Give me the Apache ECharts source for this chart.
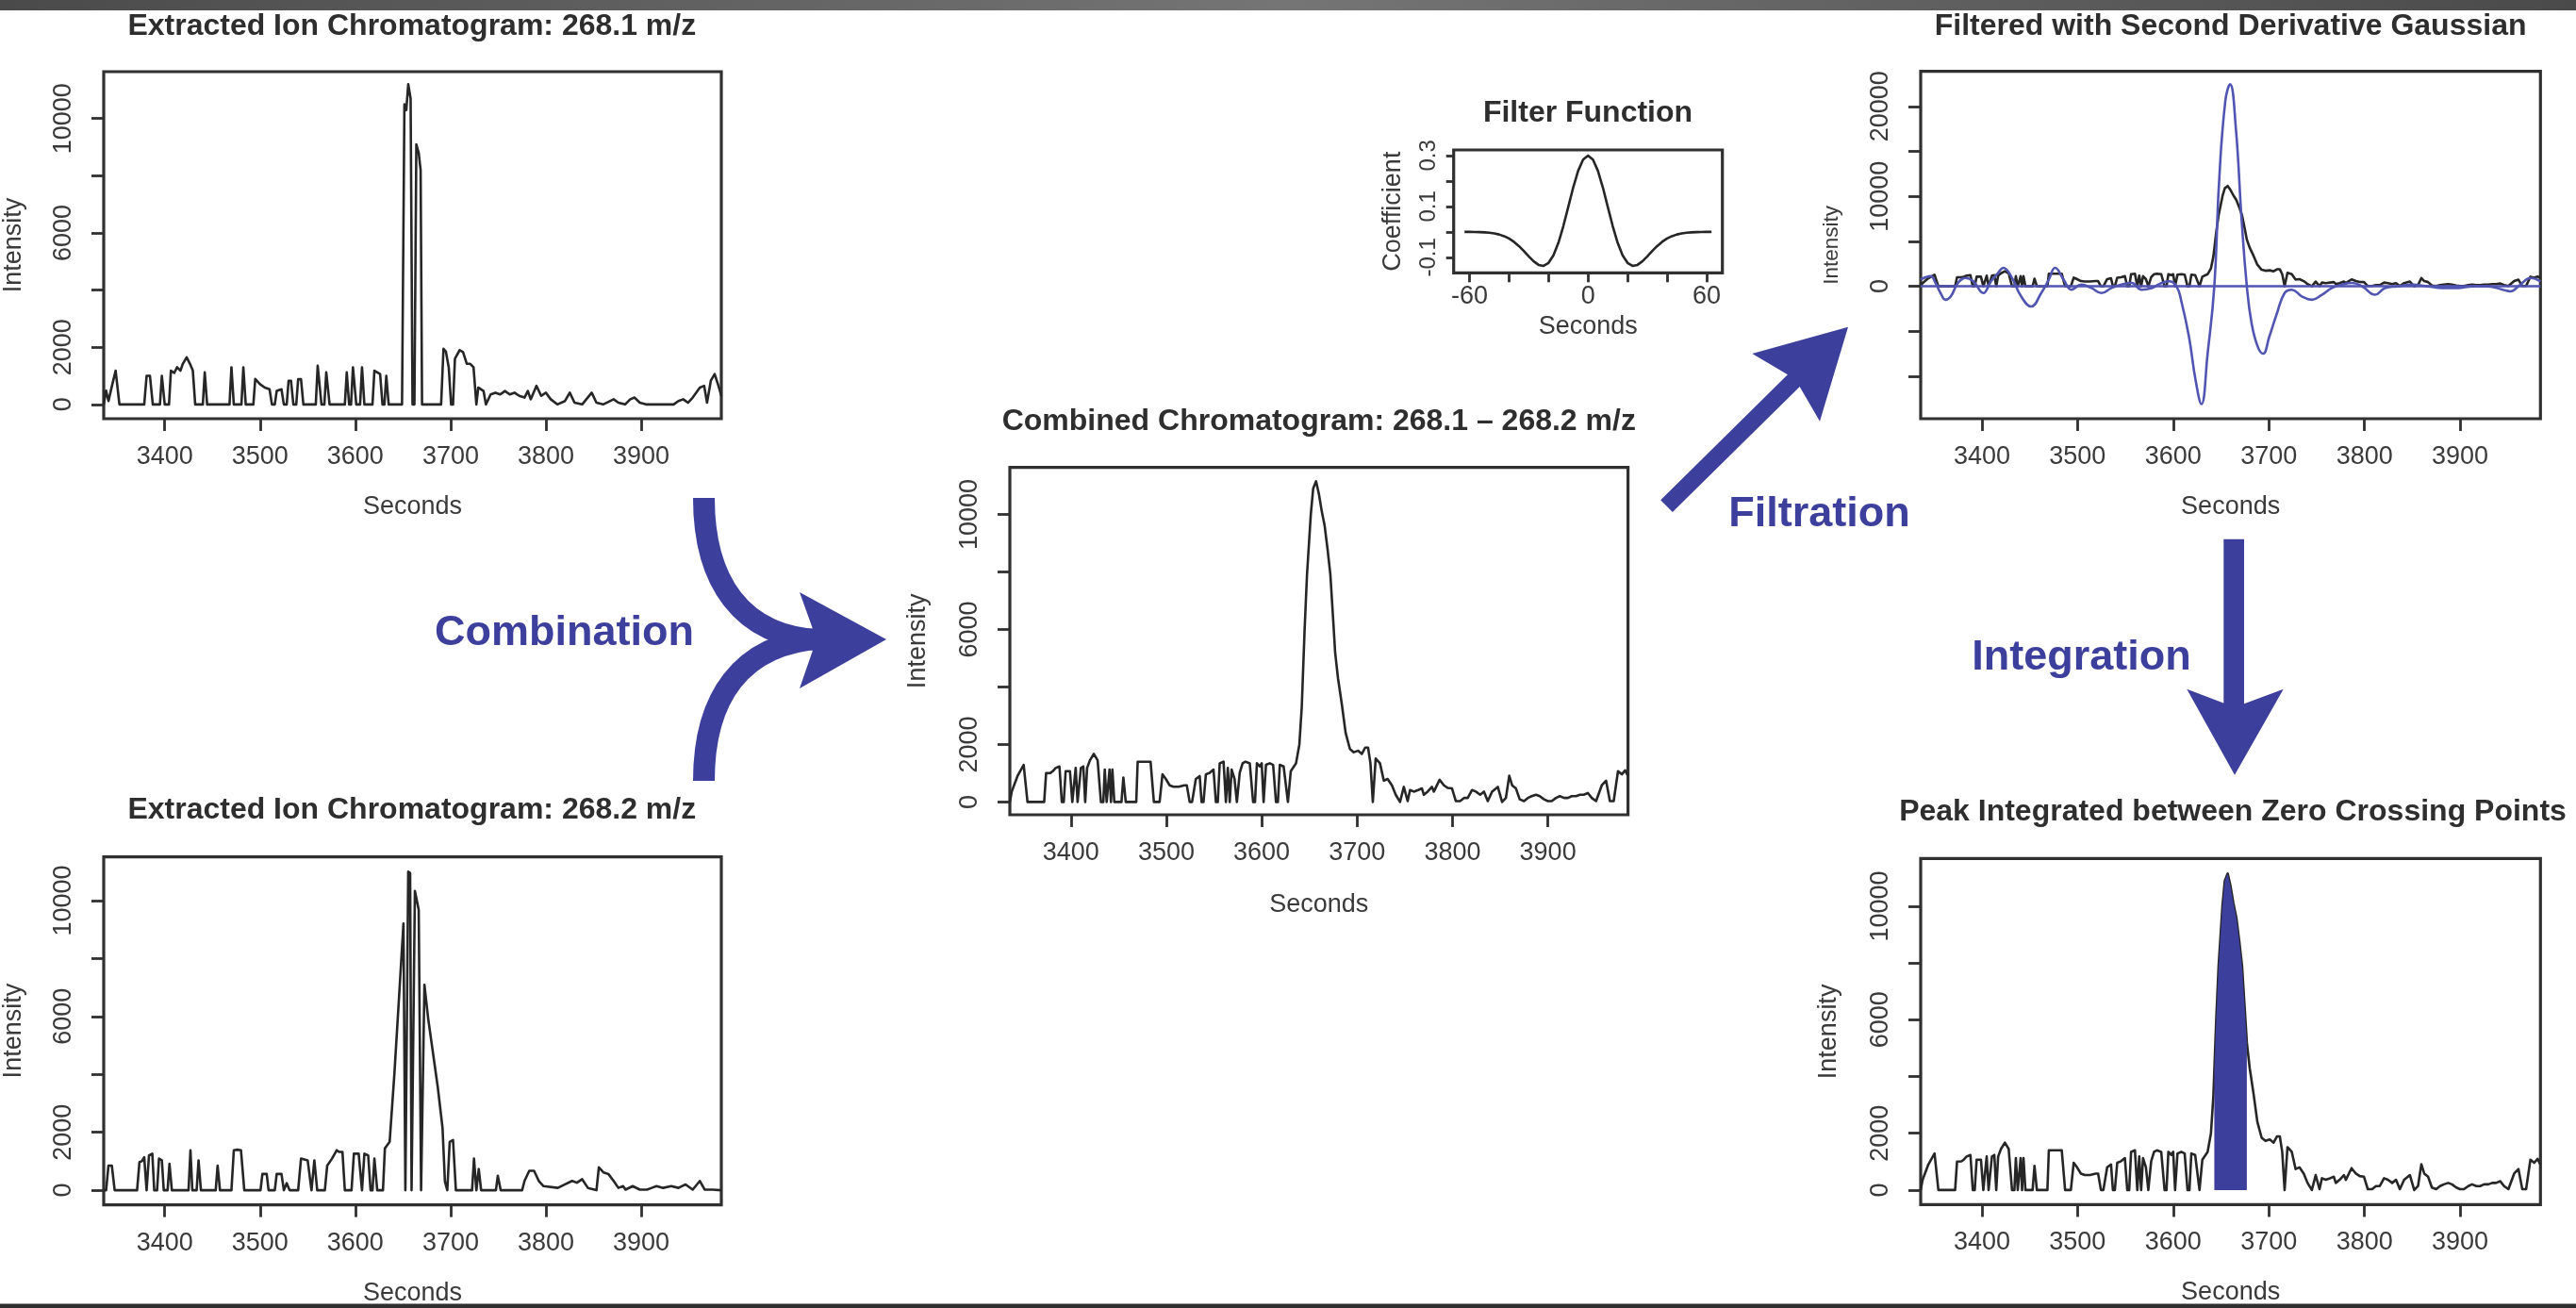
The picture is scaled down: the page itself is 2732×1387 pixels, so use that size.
<!DOCTYPE html>
<html>
<head>
<meta charset="utf-8">
<script src="https://cdn.jsdelivr.net/npm/echarts@6/dist/echarts.min.js"></script>
<style>
  html, body { margin: 0; padding: 0; background: #ffffff; }
  #chart { width: 2732px; height: 1387px; }
</style>
</head>
<body>
<div id="chart"></div>
<script>
// ---- Data -----------------------------------------------------------------
// Axis ticks and labels (R-style: every tick drawn, overlapping labels dropped)
const secondsTicks = [3400, 3500, 3600, 3700, 3800, 3900];
const intensityTicks = [0, 2000, 4000, 6000, 8000, 10000];
const intensityLabels = [0, 2000, 6000, 10000];
const filteredTicks = [-10000, -5000, 0, 5000, 10000, 15000, 20000];
const filteredLabels = [0, 10000, 20000];
const kernelSecondsTicks = [-60, -40, -20, 0, 20, 40, 60];
const kernelSecondsLabels = [-60, 0, 60];
const coefficientTicks = [-0.1, 0, 0.1, 0.2, 0.3];
const coefficientLabels = [-0.1, 0.1, 0.3];

// Extracted ion chromatogram, 268.1 m/z  [seconds, intensity]
const eic2681 = [
  [3336,0],[3338.5,480],[3341,120],[3345,700],[3348.5,1180],[3352.5,0],
  [3378.5,0],[3381,1000],[3384.5,1000],[3387.5,0],
  [3395,0],[3397,1000],[3400,0],
  [3404.5,0],[3406.5,1180],[3410,1100],[3413,1300],[3416.5,1180],[3419,1420],[3423,1650],[3426.5,1420],[3429.5,1180],[3432,0],
  [3440,0],[3442,1120],[3444.5,0],
  [3468,0],[3470,1300],[3472.5,0],
  [3480.5,0],[3482.5,1300],[3485,0],
  [3493,0],[3495,890],[3500,710],[3505,590],[3510,530],[3512.5,0],
  [3515.5,0],[3517.5,470],[3522.5,530],[3525,0],
  [3528,0],[3530,830],[3532.5,830],[3535,0],
  [3538,0],[3540,880],[3543,880],[3545.5,0],
  [3558.5,0],[3560.5,1350],[3564.5,0],
  [3567.5,0],[3569.5,1120],[3573,0],
  [3589,0],[3591,1120],[3593.5,0],
  [3595.5,0],[3597.5,1300],[3601,0],
  [3605,0],[3607,1300],[3609.5,0],
  [3618,0],[3620,1180],[3626,1060],[3628.5,0],
  [3630.5,0],[3632.5,1000],[3635,0],
  [3649,0],[3651.5,10500],[3653.5,10300],[3655.5,11200],[3658,10700],[3660,0],
  [3662,0],[3664,9100],[3666.5,8800],[3668.5,8200],[3670,0],
  [3690,0],[3692.5,1950],[3695,1850],[3698,1300],[3700.5,0],
  [3702.5,0],[3704.5,1600],[3709.5,1900],[3713,1830],[3717,1420],[3720.5,1420],[3724,1300],[3727,0],
  [3729,590],[3734.5,470],[3737,0],[3742,350],[3747,410],[3752,350],[3757,470],[3762,350],
  [3767,410],[3772,300],[3777.5,240],[3781,470],[3784,180],[3790,650],[3795,300],[3800,410],
  [3805,180],[3812,0],[3820,120],[3825,410],[3830,60],[3838,0],[3848,410],[3853,60],[3860,0],
  [3871,180],[3876,60],[3883,0],[3888.5,180],[3893,240],[3898.5,60],[3905,0],[3934,0],
  [3939,120],[3944,180],[3949,60],[3954,240],[3961.5,590],[3966,650],[3969,60],
  [3973,830],[3977,1060],[3981,650],[3984,300]
];

// Extracted ion chromatogram, 268.2 m/z  [seconds, intensity]
const eic2682 = [
  [3336,0],[3338.5,0],[3341,850],[3344.5,850],[3347.5,0],
  [3371,0],[3373.5,970],[3376,1000],[3378.5,1140],[3381,0],[3383.5,1200],[3387,1260],[3389,0],
  [3392,0],[3394,1090],[3397,1030],[3399,0],[3403,0],[3405,910],[3407.5,0],
  [3425,0],[3427,1380],[3429,0],[3433.5,0],[3435.5,1030],[3438,0],
  [3453.5,0],[3455.5,850],[3458,0],
  [3470,0],[3472.5,1380],[3476,1400],[3480,1380],[3483.5,0],
  [3500.5,0],[3502.5,560],[3507,560],[3509,0],[3515.5,0],[3517.5,560],[3522.5,560],[3525,0],[3528,240],[3531,0],
  [3540,0],[3543,1090],[3550,1030],[3554,0],[3557,1030],[3560,0],
  [3568,0],[3570.5,850],[3575.5,1090],[3580.5,1380],[3583,1320],[3586.5,1320],[3589,0],
  [3596,0],[3598.5,1260],[3603.5,1260],[3607,0],[3609.5,1260],[3613.5,1200],[3616,0],
  [3618,0],[3620,1090],[3623,0],
  [3629,0],[3631,1440],[3636,1670],[3641,4030],[3646,6740],[3650.5,9210],[3652.5,0],
  [3655.5,11000],[3657.5,10950],[3659,0],[3662.5,10330],[3666.5,9680],[3669,0],
  [3672.5,7090],[3676.5,5910],[3686.5,3560],[3691.5,2150],[3694,300],[3696.5,0],
  [3699,1670],[3702.5,1730],[3705.5,0],
  [3722.5,0],[3724.5,1090],[3727,0],[3729.5,730],[3732,0],
  [3747.5,0],[3749.5,500],[3752.5,0],
  [3775,0],[3777.5,320],[3782.5,670],[3787.5,670],[3792.5,320],[3797.5,140],[3812.5,80],
  [3820,200],[3827.5,320],[3832.5,260],[3838,380],[3844,80],[3853,0],[3855.5,790],
  [3860.5,610],[3865.5,560],[3871,320],[3876,80],[3881,140],[3883.5,20],[3891,140],
  [3898.5,20],[3906,20],[3911,80],[3916,140],[3923,80],[3931.5,140],[3939,80],
  [3946.5,200],[3954,20],[3961.5,320],[3966.5,20],[3974.5,20],[3984,0]
];

// Combined chromatogram, 268.1 - 268.2 m/z  [seconds, intensity]
const combined = [
  [3336,0],[3338,360],[3344,900],[3350.5,1290],[3354.5,0],
  [3372,0],[3374,1000],[3378.5,1010],[3381,1070],[3384,1180],[3388,1235],[3390.5,0],
  [3392.5,0],[3394.5,1070],[3399,1070],[3401.5,0],[3403,0],[3405,1180],[3407,0],
  [3408.5,0],[3410.5,1180],[3413,1235],[3415,0],[3417,1180],[3420,1450],[3424,1670],[3428,1450],[3431.5,0],
  [3434,0],[3435.5,1125],[3437.5,0],[3439,0],[3440.5,1125],[3442,0],[3442.5,0],[3443.5,1125],[3445.5,0],
  [3453,0],[3455,850],[3457.5,0],
  [3468.5,0],[3470,1400],[3483.5,1400],[3487,0],
  [3493,0],[3496,960],[3499.5,800],[3503.5,580],[3507.5,530],[3513,530],[3519,580],[3521.5,580],[3524.5,0],
  [3527,0],[3531,800],[3535,900],[3537,0],[3539,0],[3541.5,960],[3545.5,1015],[3549.5,1125],[3552,0],
  [3554,0],[3556,1345],[3560,1400],[3562.5,0],[3564.5,1180],[3566.5,0],[3568.5,1125],[3571.5,800],[3574,0],
  [3577,1015],[3580,1345],[3583,1400],[3587.5,1345],[3591,0],[3593,0],[3595,1345],[3598,1235],[3600,1345],[3602,0],
  [3604.5,1290],[3608.5,1345],[3612,1290],[3615,0],[3617,0],[3619,1290],[3623,1235],[3627.5,0],
  [3630.5,1070],[3636,1345],[3639.5,2000],[3642,3300],[3643,4200],[3645,6000],[3647.5,7900],
  [3651.5,10000],[3654,10900],[3657,11150],[3660,10700],[3663,10100],[3666,9600],[3669,8800],
  [3672,7900],[3675,6300],[3677,5200],[3680,4300],[3684,3400],[3688,2400],[3692.5,1840],
  [3696.5,1730],[3701,1780],[3705,1670],[3708.5,1890],[3711.5,1890],[3714,1345],[3716.5,0],
  [3719.5,1510],[3724,1345],[3728,740],[3732,800],[3736.5,580],[3740.5,250],[3745,0],
  [3749,525],[3753,30],[3755.5,415],[3759.5,360],[3764,415],[3768,470],[3770,250],[3774,360],
  [3778.5,525],[3780.5,360],[3786.5,770],[3791,580],[3795,490],[3799.5,470],[3803.5,30],
  [3808,30],[3812,140],[3816,140],[3820.5,415],[3824.5,360],[3829,250],[3833,360],[3837,30],
  [3841.5,360],[3847.5,525],[3852,0],[3856,140],[3859.5,910],[3862.5,580],[3866.5,470],
  [3870.5,90],[3875,30],[3879,140],[3883,200],[3887.5,250],[3891.5,200],[3896,90],[3900,30],
  [3904,30],[3908.5,140],[3912.5,200],[3917,140],[3921,140],[3925,200],[3929.5,200],
  [3933.5,250],[3937.5,250],[3942,310],[3946,140],[3950.5,30],[3956.5,580],[3961,740],
  [3965,30],[3969,30],[3973.5,1070],[3977.5,960],[3981,1100],[3984,900]
];

// Combined chromatogram after second-derivative Gaussian filtering  [seconds, response]
const filtered = [
  [3336,750],[3346.5,1120],[3351.5,375],[3357,-800],[3362,-1500],[3367.5,-1120],[3375,375],
  [3383,935],[3391,560],[3401.5,-750],[3409.5,560],[3417,1500],[3422.5,2060],[3430.5,1120],
  [3441,-1120],[3451.5,-2250],[3462,-750],[3470,750],[3476.5,2060],[3485.5,750],[3493.5,-375],
  [3504,190],[3514.5,-190],[3525,-750],[3535.5,-190],[3546,190],[3556.5,375],[3567,-375],
  [3577.5,-190],[3588,375],[3595.5,560],[3603.5,0],[3609,-1870],[3616.5,-5600],[3623.5,-10480],
  [3629.5,-13100],[3636,-7490],[3643,0],[3648,11600],[3654.5,20600],[3659.5,22460],
  [3665.5,17600],[3671.5,7490],[3677,0],[3682,-4120],[3688.5,-6740],[3694,-7490],
  [3700.5,-5600],[3708.5,-3000],[3716.5,-750],[3724,-375],[3734.5,-1120],[3745,-1500],
  [3755.5,-940],[3766,-190],[3776.5,190],[3787,375],[3797.5,0],[3811,-940],[3821.5,-190],
  [3834.5,0],[3850,190],[3866,0],[3881.5,-190],[3897.5,-190],[3913,0],[3929,0],
  [3944.5,-375],[3952.5,-560],[3963,190],[3973.5,935],[3984,560]
];

// Filter kernel (negated second derivative of a Gaussian)
const kernelSeconds = [
  -62.5,-60,-57.5,-55,-52.5,-50,-47.5,-45,-42.5,-40,-37.5,-35,-32.5,-30,-27.5,-25,-22.5,-20,
  -17.5,-15,-12.5,-10,-7.5,-5,-2.5,0,2.5,5,7.5,10,12.5,15,17.5,20,22.5,25,27.5,30,32.5,35,
  37.5,40,42.5,45,47.5,50,52.5,55,57.5,60,62.5
];
const kernelCoefficient = [
  0,-0.0002,-0.0004,-0.0009,-0.0018,-0.0034,-0.006,-0.0102,-0.0168,-0.0262,-0.0392,-0.0557,
  -0.0753,-0.0964,-0.1159,-0.1299,-0.1336,-0.1222,-0.0923,-0.0432,0.0225,0.0983,0.1745,0.240,
  0.2843,0.3,0.2843,0.240,0.1745,0.0983,0.0225,-0.0432,-0.0923,-0.1222,-0.1336,-0.1299,
  -0.1159,-0.0964,-0.0753,-0.0557,-0.0392,-0.0262,-0.0168,-0.0102,-0.006,-0.0034,-0.0018,
  -0.0009,-0.0004,-0.0002,0
];

// Zero crossings of the filtered signal bracketing the peak (integration window)
const zeroCrossings = [3643, 3677];

// ---- Styling ----------------------------------------------------------------
const FONT = "'Liberation Sans', Arial, Helvetica, sans-serif";
const INK = '#262626';
const TEXT = '#3a3a3a';
const FRAME = '#303030';
const BLUE = '#3d3f9d';
const FILTER_BLUE = '#5155b2';
const LW = 2.6;

const grids = [
  { left: 108.7, top: 76,    width: 656.3, height: 368 },   // 0: EIC 268.1
  { left: 108.7, top: 908.6, width: 656.3, height: 369 },   // 1: EIC 268.2
  { left: 1071,  top: 495.7, width: 655.6, height: 368.3 }, // 2: combined
  { left: 2037,  top: 75.7,  width: 657.3, height: 368.3 }, // 3: filtered
  { left: 2037,  top: 910.4, width: 657.3, height: 367 },   // 4: integrated
  { left: 1541.7, top: 159,  width: 285,   height: 130.3 }  // 5: kernel
].map(g => Object.assign({
  show: true, borderColor: FRAME, borderWidth: 3.2, backgroundColor: 'transparent',
  containLabel: false
}, g));

function xAxisFor(gridIndex, range, ticks, labels, o) {
  return {
    type: 'value', gridIndex, min: range[0], max: range[1],
    axisLine: { show: false, onZero: false },
    splitLine: { show: false },
    axisTick: { show: true, inside: false, length: o.tick, customValues: ticks,
                lineStyle: { color: FRAME, width: 2.8 } },
    axisLabel: { show: true, customValues: labels, margin: o.margin,
                 fontSize: o.fontSize, fontFamily: FONT, color: TEXT,
                 formatter: v => String(v) },
    name: o.name, nameLocation: 'middle', nameGap: o.nameGap,
    nameTextStyle: { fontSize: o.nameSize, fontFamily: FONT, color: TEXT }
  };
}
function yAxisFor(gridIndex, range, ticks, labels, o) {
  return {
    type: 'value', gridIndex, min: range[0], max: range[1],
    axisLine: { show: false, onZero: false },
    splitLine: { show: false },
    axisTick: { show: true, inside: false, length: o.tick, customValues: ticks,
                lineStyle: { color: FRAME, width: 2.8 } },
    axisLabel: { show: true, customValues: labels, margin: o.margin, rotate: 90,
                 fontSize: o.fontSize, fontFamily: FONT, color: TEXT,
                 formatter: v => String(v) },
    name: o.name, nameLocation: 'middle', nameGap: o.nameGap,
    nameTextStyle: { fontSize: o.nameSize, fontFamily: FONT, color: TEXT }
  };
}

const secRange = [3336, 3984];
const mainX = { tick: 13, margin: 27, fontSize: 27, name: 'Seconds', nameGap: 80, nameSize: 27 };
const mainY = { tick: 13, margin: 29, fontSize: 27, name: 'Intensity', nameGap: 82, nameSize: 27 };

const xAxes = [
  xAxisFor(0, secRange, secondsTicks, secondsTicks, mainX),
  xAxisFor(1, secRange, secondsTicks, secondsTicks, mainX),
  xAxisFor(2, secRange, secondsTicks, secondsTicks, Object.assign({}, mainX, { nameGap: 82 })),
  xAxisFor(3, secRange, secondsTicks, secondsTicks, mainX),
  xAxisFor(4, secRange, secondsTicks, secondsTicks, mainX),
  xAxisFor(5, [-68, 68], kernelSecondsTicks, kernelSecondsLabels,
           { tick: 10, margin: 12, fontSize: 27, name: 'Seconds', nameGap: 44, nameSize: 27 })
];
const yAxes = [
  yAxisFor(0, [-500, 11640], intensityTicks, intensityLabels, mainY),
  yAxisFor(1, [-505, 11510], intensityTicks, intensityLabels, mainY),
  yAxisFor(2, [-446, 11630], intensityTicks, intensityLabels, Object.assign({}, mainY, { nameGap: 84 })),
  yAxisFor(3, [-14717, 23890], filteredTicks, filteredLabels, Object.assign({}, mainY, { nameGap: 83, nameSize: 22.5 })),
  yAxisFor(4, [-515, 11680], intensityTicks, intensityLabels, Object.assign({}, mainY, { nameGap: 84 })),
  yAxisFor(5, [-0.161, 0.322], coefficientTicks, coefficientLabels,
           { tick: 8, margin: 14, fontSize: 24, name: 'Coefficient', nameGap: 51, nameSize: 27 })
];

function trace(axis, data, color, width, z) {
  return { type: 'line', xAxisIndex: axis, yAxisIndex: axis, data,
           showSymbol: false, silent: true, z: z || 2,
           lineStyle: { color, width, join: 'round' }, animation: false };
}

const integrated = combined.filter(p => p[0] >= zeroCrossings[0] && p[0] <= zeroCrossings[1]);
const kernel = kernelSeconds.map((s, i) => [s, kernelCoefficient[i]]);

const series = [
  trace(0, eic2681, INK, LW),
  trace(1, eic2682, INK, LW),
  trace(2, combined, INK, LW),
  trace(3, combined, INK, LW, 2),
  Object.assign(trace(3, filtered, FILTER_BLUE, LW, 3), {
    smooth: 0.45,
    markLine: { silent: true, symbol: 'none', label: { show: false }, animation: false,
                lineStyle: { color: FILTER_BLUE, width: LW, type: 'solid' },
                data: [{ yAxis: 0 }] }
  }),
  trace(4, combined, INK, LW, 2),
  Object.assign(trace(4, integrated, BLUE, 0, 3), {
    areaStyle: { color: BLUE, opacity: 1 }
  }),
  trace(5, kernel, INK, LW)
];

// Panel titles and process annotations
function label(text, x, y, size, weight, color) {
  return { type: 'text', x, y, silent: true, z: 10,
           style: { text, fill: color, font: `${weight} ${size}px ${FONT}`,
                    align: 'center', verticalAlign: 'middle',
                    textAlign: 'center', textVerticalAlign: 'middle' } };
}
const TITLE = '#2e2e2e';
const graphics = [
  // frame bars
  { type: 'rect', silent: true, shape: { x: 0, y: 0, width: 2732, height: 11 },
    style: { fill: new echarts.graphic.LinearGradient(0, 0, 1, 0, [
      { offset: 0, color: '#4a4a4a' }, { offset: 0.5, color: '#757575' }, { offset: 1, color: '#4a4a4a' }]) } },
  { type: 'rect', silent: true, shape: { x: 0, y: 1382.5, width: 2732, height: 5 },
    style: { fill: '#2f2f2f' } },

  label('Extracted Ion Chromatogram: 268.1 m/z', 436.8, 28, 32, 'bold', TITLE),
  label('Extracted Ion Chromatogram: 268.2 m/z', 436.8, 859, 32, 'bold', TITLE),
  label('Combined Chromatogram: 268.1 \u2013 268.2 m/z', 1398.8, 447, 32, 'bold', TITLE),
  label('Filter Function', 1684, 120, 32, 'bold', TITLE),
  label('Filtered with Second Derivative Gaussian', 2365.6, 28, 32, 'bold', TITLE),
  label('Peak Integrated between Zero Crossing Points', 2368, 861, 32, 'bold', TITLE),

  label('Combination', 598.5, 672, 45, 'bold', BLUE),
  label('Filtration', 1929.5, 546, 45, 'bold', BLUE),
  label('Integration', 2207.5, 698, 45, 'bold', BLUE),

  // combination arrow: two branches merging into one head
  { type: 'bezierCurve', silent: true,
    shape: { x1: 746.5, y1: 528, cpx1: 746.5, cpy1: 615, cpx2: 785, cpy2: 676, x2: 872, y2: 679 },
    style: { fill: null, stroke: BLUE, lineWidth: 23 } },
  { type: 'bezierCurve', silent: true,
    shape: { x1: 746.5, y1: 828, cpx1: 746.5, cpy1: 741, cpx2: 785, cpy2: 682, x2: 872, y2: 677 },
    style: { fill: null, stroke: BLUE, lineWidth: 23 } },
  { type: 'polygon', silent: true,
    shape: { points: [[940, 678], [848, 628], [866, 678], [848, 730]] },
    style: { fill: BLUE } },

  // filtration arrow
  { type: 'line', silent: true, shape: { x1: 1767.5, y1: 536.7, x2: 1906, y2: 400 },
    style: { stroke: BLUE, lineWidth: 18 } },
  { type: 'polygon', silent: true,
    shape: { points: [[1960, 346.7], [1858.3, 375], [1904, 402], [1930, 446.7]] },
    style: { fill: BLUE } },

  // integration arrow
  { type: 'rect', silent: true, shape: { x: 2358.3, y: 571.7, width: 21.7, height: 180 },
    style: { fill: BLUE } },
  { type: 'polygon', silent: true,
    shape: { points: [[2370, 821.7], [2319.3, 730.7], [2370, 750], [2421.7, 730.7]] },
    style: { fill: BLUE } }
];

const chart = echarts.init(document.getElementById('chart'), null, { renderer: 'canvas' });
chart.setOption({
  animation: false,
  backgroundColor: '#ffffff',
  grid: grids,
  xAxis: xAxes,
  yAxis: yAxes,
  series,
  graphic: { elements: graphics }
});
</script>
</body>
</html>
